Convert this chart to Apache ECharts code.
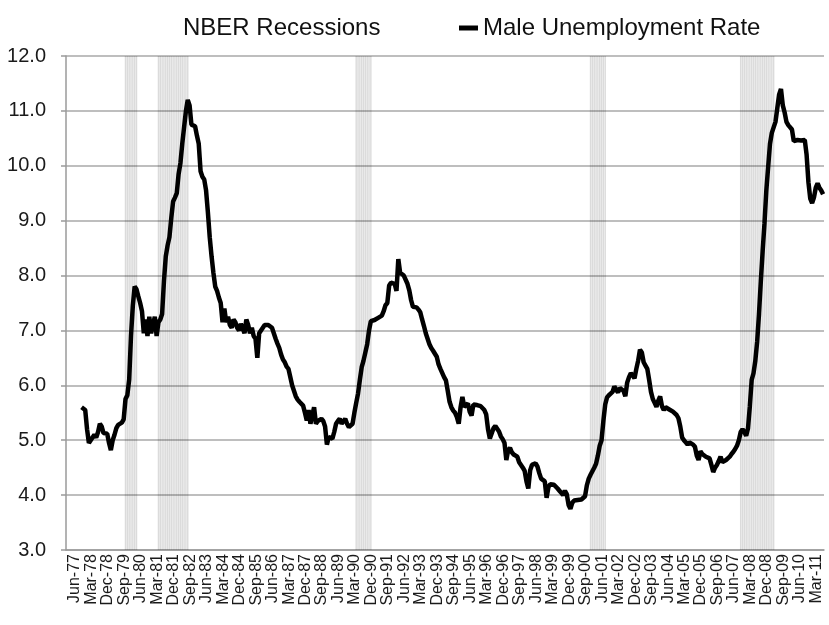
<!DOCTYPE html>
<html>
<head>
<meta charset="utf-8">
<script src="https://cdn.jsdelivr.net/npm/echarts@6/dist/echarts.min.js"></script>
<style>
  html, body { margin: 0; padding: 0; background: #fff; }
  #chart { width: 829px; height: 625px; }
</style>
</head>
<body>
<div id="chart"></div>
<script>
// month names for the category axis (Jun-77 .. Nov-11)
const monthNames = ['Jan','Feb','Mar','Apr','May','Jun','Jul','Aug','Sep','Oct','Nov','Dec'];
const firstYear = 1977, firstMonth = 5, lastYear = 2011, lastMonth = 10;

// Male unemployment rate, Jan..Dec of each year
const y1978 = [null, 5.6, 5.6, 5.55, 5.2, 4.95, 5.0, 5.05, 5.1, 5.05, 5.15, 5.3];
const y1979 = [5.25, 5.13, 5.1, 5.12, 4.95, 4.82, 5.0, 5.1, 5.22, 5.28, 5.3, 5.32];
const y1980 = [5.38, 5.75, 5.82, 6.1, 6.9, 7.45, 7.8, 7.75, 7.62, 7.5, 7.35, 6.95];
const y1981 = [7.2, 6.9, 7.25, 6.95, 7.1, 7.25, 6.9, 7.15, 7.2, 7.3, 7.9, 8.35];
const y1982 = [8.55, 8.7, 9.05, 9.35, 9.42, 9.5, 9.85, 10.05, 10.4, 10.7, 11.0, 11.2];
const y1983 = [11.1, 10.75, 10.75, 10.72, 10.55, 10.4, 9.9, 9.8, 9.75, 9.55, 9.15, 8.7];
const y1984 = [8.35, 8.05, 7.8, 7.72, 7.6, 7.5, 7.15, 7.4, 7.15, 7.25, 7.1, 7.05];
const y1985 = [7.2, 7.15, 7.05, 7.0, 7.12, 7.15, 6.95, 7.2, 7.1, 6.95, 7.05, 6.9];
const y1986 = [6.85, 6.5, 6.95, 7.0, 7.05, 7.1, 7.13, 7.1, 7.1, 7.05, 6.95, 6.85];
const y1987 = [6.76, 6.68, 6.56, 6.47, 6.42, 6.34, 6.3, 6.15, 6.0, 5.9, 5.8, 5.74];
const y1988 = [5.7, 5.67, 5.63, 5.5, 5.36, 5.55, 5.3, 5.45, 5.6, 5.3, 5.35, 5.36];
const y1989 = [5.39, 5.35, 5.25, 4.92, 5.06, 5.05, 5.03, 5.15, 5.3, 5.35, 5.39, 5.3];
const y1990 = [5.3, 5.39, 5.3, 5.24, 5.27, 5.3, 5.5, 5.68, 5.85, 6.1, 6.33, 6.45];
const y1991 = [6.48, 6.75, 7.0, 7.17, 7.18, 7.19, 7.21, 7.23, 7.26, 7.27, 7.35, 7.46];
const y1992 = [7.5, 7.82, 7.87, 7.9, 7.85, 7.72, 8.3, 8.05, 8.02, 8.0, 7.97, 7.85];
const y1993 = [7.73, 7.55, 7.43, 7.45, 7.42, 7.38, 7.33, 7.2, 7.08, 6.95, 6.85, 6.75];
const y1994 = [6.68, 6.63, 6.6, 6.52, 6.38, 6.3, 6.27, 6.15, 6.09, 5.9, 5.7, 5.6];
const y1995 = [5.54, 5.5, 5.42, 5.3, 5.6, 5.79, 5.61, 5.64, 5.67, 5.52, 5.45, 5.65];
const y1996 = [5.68, 5.64, 5.63, 5.62, 5.61, 5.55, 5.47, 5.2, 5.03, 5.05, 5.22, 5.26];
const y1997 = [5.24, 5.16, 5.07, 5.02, 4.95, 4.64, 4.82, 4.86, 4.78, 4.74, 4.72, 4.7];
const y1998 = [4.6, 4.57, 4.5, 4.44, 4.25, 4.12, 4.45, 4.55, 4.58, 4.58, 4.52, 4.4];
const y1999 = [4.3, 4.28, 4.25, 3.95, 4.15, 4.2, 4.22, 4.19, 4.16, 4.12, 4.08, 4.04];
const y2000 = [4.0, 4.08, 4.02, 3.82, 3.75, 3.86, 3.9, 3.92, 3.91, 3.92, 3.92, 3.93];
const y2001 = [3.98, 4.18, 4.3, 4.37, 4.4, 4.5, 4.57, 4.72, 4.9, 5.0, 5.35, 5.65];
const y2002 = [5.78, 5.82, 5.85, 5.88, 5.98, 5.92, 5.87, 5.95, 5.93, 5.9, 5.8, 6.05];
const y2003 = [6.15, 6.22, 6.18, 6.13, 6.3, 6.45, 6.65, 6.6, 6.42, 6.36, 6.3, 6.1];
const y2004 = [5.88, 5.75, 5.68, 5.61, 5.72, 5.8, 5.62, 5.55, 5.6, 5.6, 5.56, 5.54];
const y2005 = [5.52, 5.5, 5.46, 5.4, 5.25, 5.05, 5.0, 4.96, 4.92, 4.96, 4.98, 4.92];
const y2006 = [4.88, 4.72, 4.64, 4.8, 4.75, 4.72, 4.7, 4.69, 4.67, 4.55, 4.42, 4.5];
const y2007 = [4.55, 4.62, 4.7, 4.6, 4.6, 4.64, 4.67, 4.7, 4.75, 4.79, 4.84, 4.9];
const y2008 = [5.0, 5.15, 5.2, 5.15, 5.08, 5.22, 5.62, 6.1, 6.22, 6.45, 6.8, 7.3];
const y2009 = [7.9, 8.45, 8.95, 9.55, 9.98, 10.4, 10.6, 10.62, 10.8, 11.05, 11.3, 11.4];
const y2010 = [11.1, 10.97, 10.8, 10.74, 10.71, 10.66, 10.45, 10.42, 10.47, 10.45, 10.46, 10.47];
const y2011 = [10.47, 10.2, 9.7, 9.4, 9.32, 9.42, 9.6, 9.68, 9.6, 9.55, 9.48];

const maleByYear = {
  1978: y1978, 1979: y1979, 1980: y1980, 1981: y1981, 1982: y1982, 1983: y1983,
  1984: y1984, 1985: y1985, 1986: y1986, 1987: y1987, 1988: y1988, 1989: y1989,
  1990: y1990, 1991: y1991, 1992: y1992, 1993: y1993, 1994: y1994, 1995: y1995,
  1996: y1996, 1997: y1997, 1998: y1998, 1999: y1999, 2000: y2000, 2001: y2001,
  2002: y2002, 2003: y2003, 2004: y2004, 2005: y2005, 2006: y2006, 2007: y2007,
  2008: y2008, 2009: y2009, 2010: y2010, 2011: y2011
};

// NBER recession shading, first and last shaded month as drawn
const recessions = [['Feb-80', 'Aug-80'], ['Aug-81', 'Dec-82'], ['Aug-90', 'Apr-91'],
                    ['Apr-01', 'Dec-01'], ['Feb-08', 'Aug-09']];

const yTicks = [3, 4, 5, 6, 7, 8, 9, 10, 11, 12];

// build the category list and series from the arrays above
const categories = [], maleRate = [];
for (let y = firstYear; y <= lastYear; y++) {
  const m0 = y === firstYear ? firstMonth : 0;
  const m1 = y === lastYear ? lastMonth : 11;
  for (let m = m0; m <= m1; m++) {
    categories.push(monthNames[m] + '-' + String(y).slice(2));
    const row = maleByYear[y];
    maleRate.push(row && row[m] != null ? row[m] : '-');
  }
}
const recessionBars = categories.map(() => '-');
recessions.forEach(([a, b]) => {
  for (let i = categories.indexOf(a); i <= categories.indexOf(b); i++) recessionBars[i] = yTicks[yTicks.length - 1];
});

const legendFont = { fontFamily: 'Liberation Sans, Arial', fontSize: 24, color: '#111' };

const chart = echarts.init(document.getElementById('chart'));
chart.setOption({
  animation: false,
  backgroundColor: '#fff',
  grid: { left: 66, right: 5, top: 56, bottom: 75 },
  legend: [
    {
      left: 145, top: 11,
      data: [{ name: 'NBER Recessions', itemStyle: { opacity: 0 } }],
      itemWidth: 28, itemHeight: 5,
      textStyle: legendFont
    },
    {
      left: 454, top: 11,
      data: [{ name: 'Male Unemployment Rate', icon: 'rect' }],
      itemWidth: 19, itemHeight: 5, itemGap: 0,
      textStyle: legendFont
    }
  ],
  xAxis: {
    type: 'category',
    data: categories,
    boundaryGap: true,
    axisLine: { lineStyle: { color: '#9a9a9a', width: 1.5 } },
    axisTick: { interval: (i) => i % 9 === 0, length: 5, lineStyle: { color: '#9a9a9a', width: 1.5 } },
    axisLabel: {
      interval: (i) => i % 9 === 0,
      rotate: 90, margin: 4,
      verticalAlign: 'top',
      fontFamily: 'Liberation Sans, Arial', fontSize: 16, color: '#1a1a1a'
    },
    splitLine: { show: false }
  },
  yAxis: {
    type: 'value',
    min: yTicks[0], max: yTicks[yTicks.length - 1], interval: 1,
    axisLine: { show: true, lineStyle: { color: '#9a9a9a', width: 1.5 } },
    axisTick: { show: true, length: 5, lineStyle: { color: '#9a9a9a', width: 1.5 } },
    axisLabel: {
      margin: 20,
      formatter: (v) => v.toFixed(1),
      fontFamily: 'Liberation Sans, Arial', fontSize: 20, color: '#1a1a1a'
    },
    splitLine: { lineStyle: { color: '#a8a8a8', width: 1.5 } }
  },
  series: [
    {
      name: 'NBER Recessions',
      type: 'bar',
      data: recessionBars,
      barCategoryGap: '20%',
      itemStyle: { color: 'rgba(0,0,0,0.14)' },
      silent: true,
      z: 1
    },
    {
      name: 'Male Unemployment Rate',
      type: 'line',
      data: maleRate,
      showSymbol: false,
      symbol: 'none',
      lineStyle: { color: '#000', width: 4.5 },
      itemStyle: { color: '#000' },
      z: 3
    }
  ]
});
window.addEventListener('resize', () => chart.resize());
</script>
</body>
</html>
